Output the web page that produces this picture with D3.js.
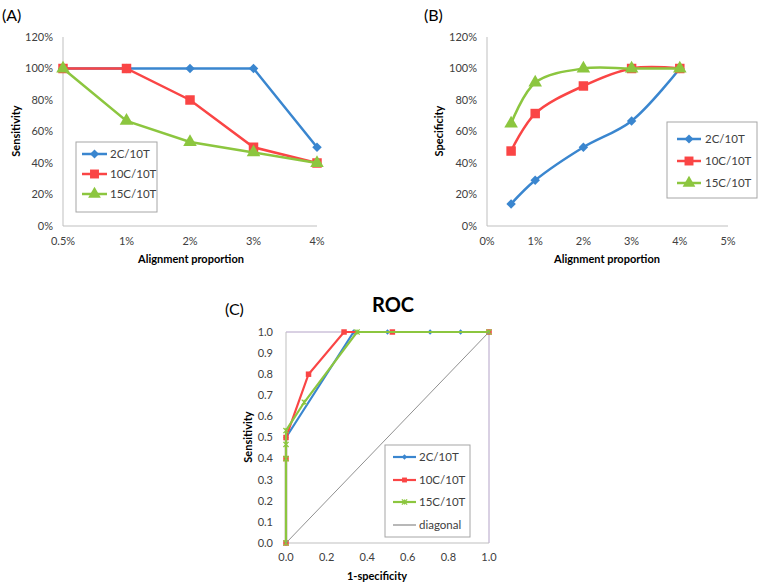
<!DOCTYPE html>
<html><head><meta charset="utf-8">
<script src="https://cdn.jsdelivr.net/npm/d3@7"></script>
<style>body{margin:0;background:#fff;} svg{display:block;} text{font-family:Lato,"Open Sans",sans-serif;fill:#404040;}</style>
</head><body>
<svg id="c" width="760" height="586"></svg>
<script>
// ---- data ----
const seriesNames = ["2C/10T", "10C/10T", "15C/10T"];
const catA = ["0.5%", "1%", "2%", "3%", "4%"];
const sensA_2C = [1.00, 1.00, 1.00, 1.00, 0.50];
const sensA_10C = [1.00, 1.00, 0.80, 0.50, 0.40];
const sensA_15C = [1.00, 0.667, 0.533, 0.467, 0.40];
const yTicksAB = [0, 0.2, 0.4, 0.6, 0.8, 1.0, 1.2];

const propB = [0.5, 1, 2, 3, 4];
const xTicksB = [0, 1, 2, 3, 4, 5];
const specB_2C = [0.14, 0.29, 0.50, 0.667, 1.00];
const specB_10C = [0.476, 0.714, 0.889, 1.00, 1.00];
const specB_15C = [0.65, 0.91, 1.00, 1.00, 1.00];

const rocX_2C = [0, 0, 0.333, 0.50, 0.71, 0.86, 1.0];
const rocY_2C = [0, 0.5, 1, 1, 1, 1, 1];
const rocX_10C = [0, 0, 0, 0.111, 0.286, 0.524, 1.0];
const rocY_10C = [0, 0.4, 0.5, 0.8, 1, 1, 1];
const rocX_15C = [0, 0, 0, 0, 0.09, 0.35, 1.0];
const rocY_15C = [0, 0.4, 0.467, 0.533, 0.667, 1, 1];
const diagX = [0, 1];
const diagY = [0, 1];
const ticksC = [0, 0.1, 0.2, 0.3, 0.4, 0.5, 0.6, 0.7, 0.8, 0.9, 1.0];
const ticksCx = [0, 0.2, 0.4, 0.6, 0.8, 1.0];

const colors = ["#3a86cf", "#fa4545", "#8cc63f"];

const svg = d3.select("#c");
const axisCol = "#bfbfbf";

function marker(g, i, x, y, size, small) {
  if (small && i === 2) {
    const s = 2.6;
    g.append("path").attr("d", `M${x-s},${y-s}L${x+s},${y+s}M${x-s},${y+s}L${x+s},${y-s}M${x},${y-s}L${x},${y+s}`)
      .attr("stroke", colors[i]).attr("stroke-width", 1.3).attr("fill", "none");
    return;
  }
  let path, t = `translate(${x},${y})`;
  if (i === 0) { path = d3.symbol(d3.symbolSquare, size)(); t += " rotate(45)"; }
  else if (i === 1) path = d3.symbol(d3.symbolSquare, size)();
  else path = d3.symbol(d3.symbolTriangle, size)();
  g.append("path").attr("d", path).attr("transform", t).attr("fill", colors[i]);
}

function legend(g, x0, y0, x1, y1, items, ys, lx0, lx1, tx, sizes, small) {
  g.append("rect").attr("x", x0).attr("y", y0).attr("width", x1 - x0).attr("height", y1 - y0)
    .attr("fill", "#fff").attr("stroke", "#a6a6a6").attr("stroke-width", 1);
  items.forEach((name, i) => {
    const y = ys[i];
    const col = i < 3 ? colors[i] : "#888";
    g.append("line").attr("x1", lx0).attr("x2", lx1).attr("y1", y).attr("y2", y)
      .attr("stroke", col).attr("stroke-width", i < 3 ? (small ? 2.2 : 2.5) : 1.2);
    if (i < 3) marker(g, i, (lx0 + lx1) / 2, y, sizes[i], small);
    g.append("text").attr("x", tx).attr("y", y).attr("dy", "0.35em").attr("font-size", 11.5).text(name);
  });
}

const FS = 11;

// ---------------- Panel A ----------------
{
  const g = svg.append("g");
  const x = d3.scalePoint(catA, [63, 317]);
  const y = d3.scaleLinear([0, 1.2], [226, 37]);
  g.append("line").attr("x1", 63).attr("x2", 63).attr("y1", 37).attr("y2", 226).attr("stroke", axisCol);
  g.append("line").attr("x1", 63).attr("x2", 317).attr("y1", 226).attr("y2", 226).attr("stroke", axisCol);
  yTicksAB.forEach(v => {
    g.append("text").attr("x", 53).attr("y", y(v)).attr("dy", "0.35em").attr("text-anchor", "end")
      .attr("font-size", FS).text(d3.format(".0%")(v));
  });
  catA.forEach(c => {
    g.append("text").attr("x", x(c)).attr("y", 241).attr("dy", "0.35em").attr("text-anchor", "middle")
      .attr("font-size", FS).text(c);
  });
  g.append("text").attr("x", 191).attr("y", 259).attr("dy", "0.35em").attr("text-anchor", "middle")
    .attr("font-size", FS).attr("font-weight", "bold").style("fill", "#000").text("Alignment proportion");
  g.append("text").attr("transform", "translate(16,131) rotate(-90)").attr("dy", "0.35em").attr("text-anchor", "middle")
    .attr("font-size", FS).attr("font-weight", "bold").style("fill", "#000").text("Sensitivity");
  g.append("text").attr("x", 2).attr("y", 15).attr("dy", "0.35em").attr("font-size", 16).style("fill", "#000").text("(A)");
  const sets = [sensA_2C, sensA_10C, sensA_15C];
  const sizes = [45, 90, 80];
  const line = d3.line().x((d, j) => x(catA[j])).y(d => y(d));
  [0, 1, 2].forEach(i => {
    g.append("path").attr("d", line(sets[i])).attr("fill", "none").attr("stroke", colors[i]).attr("stroke-width", 2.5);
    sets[i].forEach((v, j) => marker(g, i, x(catA[j]), y(v), sizes[i], false));
  });
  legend(g, 76, 142, 157, 212, seriesNames, [154, 174, 194], 82, 107, 110, [40, 80, 70], false);
}

// ---------------- Panel B ----------------
{
  const g = svg.append("g");
  const x = d3.scaleLinear([0, 5], [487, 728]);
  const y = d3.scaleLinear([0, 1.2], [226, 37]);
  g.append("line").attr("x1", 487).attr("x2", 487).attr("y1", 37).attr("y2", 226).attr("stroke", axisCol);
  g.append("line").attr("x1", 487).attr("x2", 728).attr("y1", 226).attr("y2", 226).attr("stroke", axisCol);
  yTicksAB.forEach(v => {
    g.append("text").attr("x", 477).attr("y", y(v)).attr("dy", "0.35em").attr("text-anchor", "end")
      .attr("font-size", FS).text(d3.format(".0%")(v));
  });
  xTicksB.forEach(v => {
    g.append("text").attr("x", x(v)).attr("y", 241).attr("dy", "0.35em").attr("text-anchor", "middle")
      .attr("font-size", FS).text(v + "%");
  });
  g.append("text").attr("x", 607).attr("y", 259).attr("dy", "0.35em").attr("text-anchor", "middle")
    .attr("font-size", FS).attr("font-weight", "bold").style("fill", "#000").text("Alignment proportion");
  g.append("text").attr("transform", "translate(439,131) rotate(-90)").attr("dy", "0.35em").attr("text-anchor", "middle")
    .attr("font-size", FS).attr("font-weight", "bold").style("fill", "#000").text("Specificity");
  g.append("text").attr("x", 424).attr("y", 15).attr("dy", "0.35em").attr("font-size", 16).style("fill", "#000").text("(B)");
  const sets = [specB_2C, specB_10C, specB_15C];
  const sizes = [45, 90, 80];
  const line = d3.line().x((d, j) => x(propB[j])).y(d => y(d)).curve(d3.curveCatmullRom.alpha(0.5));
  [0, 1, 2].forEach(i => {
    g.append("path").attr("d", line(sets[i])).attr("fill", "none").attr("stroke", colors[i]).attr("stroke-width", 2.5);
    sets[i].forEach((v, j) => marker(g, i, x(propB[j]), y(v), sizes[i], false));
  });
  legend(g, 667, 122, 757, 198, seriesNames, [139, 161, 183], 677, 701, 705, [40, 80, 70], false);
}

// ---------------- Panel C ----------------
{
  const g = svg.append("g");
  const x = d3.scaleLinear([0, 1], [286, 489]);
  const y = d3.scaleLinear([0, 1], [543, 332]);
  const lav = "#b3a2c7";
  g.append("line").attr("x1", 286).attr("x2", 489).attr("y1", 332).attr("y2", 332).attr("stroke", lav);
  g.append("line").attr("x1", 489).attr("x2", 489).attr("y1", 332).attr("y2", 543).attr("stroke", lav);
  g.append("line").attr("x1", 286).attr("x2", 286).attr("y1", 332).attr("y2", 543).attr("stroke", axisCol);
  g.append("line").attr("x1", 286).attr("x2", 489).attr("y1", 543).attr("y2", 543).attr("stroke", axisCol);
  ticksC.forEach(v => {
    g.append("text").attr("x", 273).attr("y", y(v)).attr("dy", "0.35em").attr("text-anchor", "end")
      .attr("font-size", FS).text(v.toFixed(1));
  });
  ticksCx.forEach(v => {
    g.append("text").attr("x", x(v)).attr("y", 557).attr("dy", "0.35em").attr("text-anchor", "middle")
      .attr("font-size", FS).text(v.toFixed(1));
  });
  g.append("text").attr("x", 377).attr("y", 576).attr("dy", "0.35em").attr("text-anchor", "middle")
    .attr("font-size", FS).attr("font-weight", "bold").style("fill", "#000").text("1-specificity");
  g.append("text").attr("transform", "translate(248,437) rotate(-90)").attr("dy", "0.35em").attr("text-anchor", "middle")
    .attr("font-size", FS).attr("font-weight", "bold").style("fill", "#000").text("Sensitivity");
  g.append("text").attr("x", 393).attr("y", 305).attr("dy", "0.35em").attr("text-anchor", "middle")
    .attr("font-size", 20).attr("font-weight", "bold").style("fill", "#000").text("ROC");
  g.append("text").attr("x", 225).attr("y", 309).attr("dy", "0.35em").attr("font-size", 16).style("fill", "#000").text("(C)");
  const xs = [rocX_2C, rocX_10C, rocX_15C];
  const ys = [rocY_2C, rocY_10C, rocY_15C];
  const sizes = [14, 30, 0];
  const line = d3.line().x(d => x(d[0])).y(d => y(d[1]));
  [0, 1, 2].forEach(i => {
    const pts = xs[i].map((v, j) => [v, ys[i][j]]);
    g.append("path").attr("d", line(pts)).attr("fill", "none").attr("stroke", colors[i]).attr("stroke-width", 2.2);
    pts.forEach(p => marker(g, i, x(p[0]), y(p[1]), sizes[i], true));
  });
  const dpts = diagX.map((v, j) => [v, diagY[j]]);
  g.append("path").attr("d", line(dpts)).attr("fill", "none").attr("stroke", "#909090").attr("stroke-width", 1);
  legend(g, 385, 445, 470, 537, seriesNames.concat(["diagonal"]), [457, 480, 502, 525], 393, 416, 419, [14, 24, 0], true);
}
</script>
</body></html>
